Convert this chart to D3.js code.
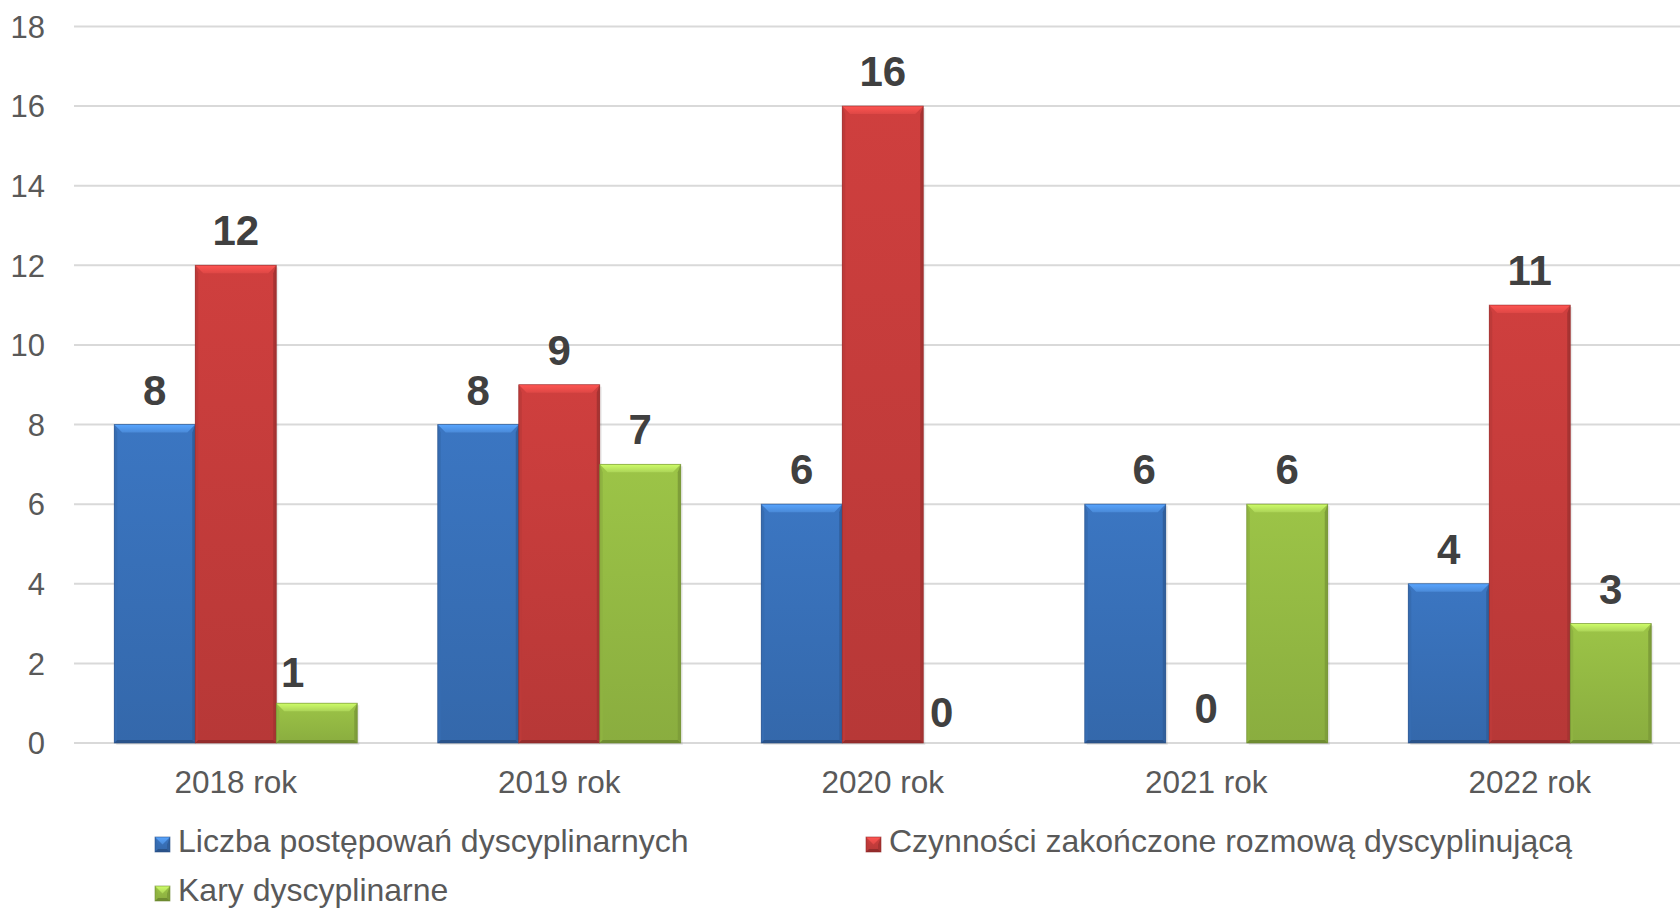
<!DOCTYPE html>
<html lang="pl">
<head>
<meta charset="utf-8">
<title>Postępowania dyscyplinarne 2018–2022</title>
<script src="https://cdn.jsdelivr.net/npm/d3@7"></script>
<style>
  html, body { margin: 0; padding: 0; background: #ffffff; }
  svg { display: block; font-family: Arial, "Liberation Sans", sans-serif; }
</style>
</head>
<body>
<svg id="chart" width="1680" height="908"></svg>
<script>
// Years on the category axis
const categories = ["2018 rok", "2019 rok", "2020 rok", "2021 rok", "2022 rok"];

// Series names (legend order)
const seriesNames = [
  "Liczba postępowań dyscyplinarnych",
  "Czynności zakończone rozmową dyscyplinującą",
  "Kary dyscyplinarne"
];

// Values per series, one entry per year
const postepowania = [8, 8, 6, 6, 4];
const rozmowy      = [12, 9, 16, 0, 11];
const kary         = [1, 7, 0, 6, 3];

// Value axis ticks
const yTicks = [0, 2, 4, 6, 8, 10, 12, 14, 16, 18];

const seriesValues = [postepowania, rozmowy, kary];

// Fill palette per series: [light top, base, dark bottom]
const palette = [
  ["#4a8ad8", "#3b76c2", "#2f5c9a"],
  ["#de4745", "#cf3f3e", "#a53131"],
  ["#acd458", "#9cc447", "#7b9c36"]
];

// Hand-placed label offsets where labels were moved to stay clear of neighbours
const labelShift = {
  "2018 rok|2": [-24, 4],
  "2020 rok|2": [-22, 4],
  "2021 rok|0": [19, 0]
};

const svg = d3.select("#chart");
const W = 1680;

const plotLeft = 74, plotTop = 26.4, plotBottom = 743;
const bandW = 323.5;

const x0 = d3.scaleBand()
  .domain(categories)
  .range([plotLeft, plotLeft + bandW * categories.length])
  .paddingInner(0).paddingOuter(0);

const x1 = d3.scaleBand()
  .domain(d3.range(seriesNames.length))
  .range([0, x0.bandwidth()])
  .paddingInner(0).paddingOuter(0.497);

const y = d3.scaleLinear().domain([0, 18]).range([plotBottom, plotTop]);

// Gradients
const defs = svg.append("defs");
palette.forEach((c, i) => {
  const g = defs.append("linearGradient")
    .attr("id", "barGrad" + i).attr("x1", 0).attr("y1", 0).attr("x2", 0).attr("y2", 1);
  g.append("stop").attr("offset", "0%").attr("stop-color", c[1]);
  g.append("stop").attr("offset", "100%").attr("stop-color", d3.color(c[1]).darker(0.35));
  const t = defs.append("linearGradient")
    .attr("id", "bevelTop" + i).attr("x1", 0).attr("y1", 0).attr("x2", 0).attr("y2", 1);
  t.append("stop").attr("offset", "0%").attr("stop-color", d3.color(c[0]).brighter(0.5));
  t.append("stop").attr("offset", "100%").attr("stop-color", c[0]);
});

// Horizontal gridlines
svg.append("g")
  .selectAll("line")
  .data(yTicks)
  .join("line")
  .attr("x1", plotLeft).attr("x2", W)
  .attr("y1", d => y(d)).attr("y2", d => y(d))
  .attr("stroke", "#d9d9d9").attr("stroke-width", 2);

// Value axis labels
const yAxis = d3.axisLeft(y).tickValues(yTicks).tickSize(0).tickPadding(0);
const yg = svg.append("g").attr("transform", "translate(45,0)").call(yAxis);
yg.select(".domain").remove();
yg.selectAll("text")
  .attr("font-size", 31).attr("fill", "#595959")
  .attr("font-family", "Arial, 'Liberation Sans', sans-serif")
  .attr("dy", "0.35em");

// Category axis labels
const xAxis = d3.axisBottom(x0).tickSize(0).tickPadding(0);
const xg = svg.append("g").attr("transform", `translate(0,${plotBottom})`).call(xAxis);
xg.select(".domain").remove();
xg.selectAll("text")
  .attr("font-size", 31.5).attr("fill", "#595959")
  .attr("font-family", "Arial, 'Liberation Sans', sans-serif")
  .attr("dy", null)
  .attr("y", 49.5);

// Bars
const rows = [];
categories.forEach((cat, ci) => {
  seriesValues.forEach((vals, si) => rows.push({ cat, si, v: vals[ci] }));
});

function drawBar(g, x, yTop, w, h, si) {
  const c = palette[si];
  const b = Math.min(8, h / 2);
  const s = Math.min(3, w / 2);
  g.append("rect").attr("x", x).attr("y", yTop).attr("width", w).attr("height", h)
    .attr("fill", `url(#barGrad${si})`);
  if (h <= 0) return;
  // left / right bevel faces
  g.append("polygon")
    .attr("points", [[x, yTop], [x + s, yTop + b], [x + s, yTop + h - s], [x, yTop + h]].join(" "))
    .attr("fill", d3.color(c[1]).darker(0.25));
  g.append("polygon")
    .attr("points", [[x + w, yTop], [x + w - s, yTop + b], [x + w - s, yTop + h - s], [x + w, yTop + h]].join(" "))
    .attr("fill", d3.color(c[1]).darker(0.6));
  // bottom bevel face
  g.append("polygon")
    .attr("points", [[x, yTop + h], [x + s, yTop + h - s], [x + w - s, yTop + h - s], [x + w, yTop + h]].join(" "))
    .attr("fill", d3.color(c[2]).darker(0.3));
  // top bevel face
  g.append("polygon")
    .attr("points", [[x, yTop], [x + w, yTop], [x + w - b, yTop + b], [x + b, yTop + b]].join(" "))
    .attr("fill", `url(#bevelTop${si})`);
  g.append("rect").attr("x", x).attr("y", yTop).attr("width", w).attr("height", h)
    .attr("fill", "none").attr("stroke", d3.color(c[2]).darker(0.4)).attr("stroke-width", 0.8)
    .attr("stroke-opacity", 0.7);
}

const barG = svg.append("g");
rows.forEach(d => {
  const bx = x0(d.cat) + x1(d.si);
  const h = y(0) - y(d.v);
  if (d.v > 0) {
    // soft drop shadow
    barG.append("rect")
      .attr("x", bx + 2).attr("y", y(d.v) + 2)
      .attr("width", x1.bandwidth()).attr("height", h)
      .attr("fill", "#000").attr("opacity", 0.08);
    drawBar(barG.append("g"), bx, y(d.v), x1.bandwidth(), h, d.si);
  }
});

// Value labels above bars
const shift = d => labelShift[d.cat + "|" + d.si] || [0, 0];
svg.append("g")
  .selectAll("text")
  .data(rows)
  .join("text")
  .attr("x", d => x0(d.cat) + x1(d.si) + x1.bandwidth() / 2 + shift(d)[0])
  .attr("y", d => y(d.v) - 20 + shift(d)[1])
  .attr("text-anchor", "middle")
  .attr("font-size", 42).attr("font-weight", "bold").attr("fill", "#404040")
  .text(d => d.v);

// Legend
const legendPos = [
  { x: 155, y: 852 },
  { x: 866, y: 852 },
  { x: 155, y: 901 }
];
const lg = svg.append("g");
seriesNames.forEach((name, si) => {
  const p = legendPos[si];
  drawBar(lg.append("g"), p.x, p.y - 15, 15, 15, si);
  lg.append("text")
    .attr("x", p.x + 23).attr("y", p.y)
    .attr("font-size", 32).attr("fill", "#595959")
    .text(name);
});
</script>
</body>
</html>
